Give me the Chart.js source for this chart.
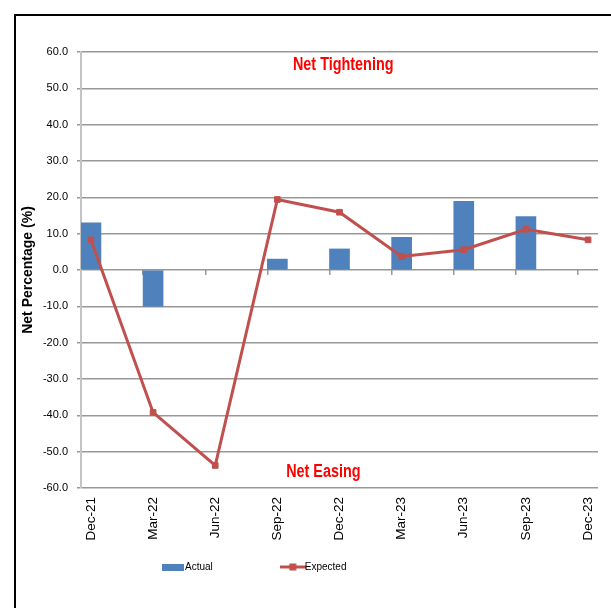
<!DOCTYPE html>
<html>
<head>
<meta charset="utf-8">
<script src="https://cdn.jsdelivr.net/npm/chart.js@4.4.0/dist/chart.umd.min.js"></script>
<style>
  html, body { margin: 0; padding: 0; background: #fff; width: 611px; height: 608px; overflow: hidden; }
  #frame { position: absolute; left: 14px; top: 14px; width: 640px; height: 640px; border: 2px solid #000; }
  #chart { position: absolute; left: 0; top: 0; }
</style>
</head>
<body>
<div id="frame"><canvas id="chart" width="595" height="592"></canvas></div>
<script>
// Quarterly survey: net percentage of respondents, actual vs expected
const quarters = ['Dec-21', 'Mar-22', 'Jun-22', 'Sep-22', 'Dec-22', 'Mar-23', 'Jun-23', 'Sep-23', 'Dec-23'];
const actual   = [13.0, -10.0, null, 3.0, 5.8, 9.0, 18.9, 14.7, null];
const expected = [8.3, -39.2, -53.8, 19.4, 15.9, 3.7, 5.6, 11.2, 8.3];
const yRange   = { min: -60, max: 60, step: 10 };
const notes = [
  { text: 'Net Tightening', x: 4.06, y: 55.1 },
  { text: 'Net Easing',     x: 3.74, y: -57.1 }
];

const BLUE = '#4F81BD';
const RED = '#C0504D';
const GRID = '#989898';
const SANS = '"Liberation Sans", Arial, sans-serif';

// Bars sit just right of each quarter's tick mark
const barShift = 0.16;

function glyph(w, h, paint) {
  const c = document.createElement('canvas');
  c.width = w; c.height = h;
  paint(c.getContext('2d'), w, h);
  return c;
}
const legendGlyphs = [
  glyph(22, 7, (g, w, h) => { g.fillStyle = BLUE; g.fillRect(0, 0, w, h); }),
  glyph(26, 9, (g, w, h) => {
    g.strokeStyle = RED; g.lineWidth = 3;
    g.beginPath(); g.moveTo(0, h / 2); g.lineTo(w, h / 2); g.stroke();
    g.fillStyle = RED; g.fillRect(w / 2 - 3.5, h / 2 - 3.5, 7, 7);
  })
];

// Red condensed captions placed in data space
const captionPlugin = {
  id: 'captions',
  afterDatasetsDraw(chart) {
    const { ctx, scales: { x, y } } = chart;
    notes.forEach(n => {
      ctx.save();
      ctx.translate(x.getPixelForValue(n.x), y.getPixelForValue(n.y));
      ctx.scale(0.8, 1);
      ctx.font = 'bold 18px ' + SANS;
      ctx.fillStyle = '#FF0000';
      ctx.textAlign = 'center';
      ctx.textBaseline = 'alphabetic';
      ctx.fillText(n.text, 0, 0);
      ctx.restore();
    });
  }
};

// Legend row sits under the quarter labels, left of centre
const legendPlacement = {
  id: 'legendPlacement',
  afterLayout(chart) {
    const lg = chart.legend;
    const area = chart.chartArea;
    const pad = lg.options.labels.padding;
    const w = lg.right - lg.left;
    lg.left = area.left + 85 - pad;
    lg.right = lg.left + w;
    lg.top = area.bottom + 79 - pad - 5;
    lg.bottom = lg.top + pad + 10 + 10;
  }
};

const xRange = { min: -barShift, max: quarters.length - 1 + barShift };

new Chart(document.getElementById('chart'), {
  data: {
    datasets: [
      {
        type: 'bar',
        label: 'Actual',
        data: actual.map((v, i) => ({ x: i, y: v })),
        backgroundColor: BLUE,
        borderWidth: 0,
        barThickness: 20,
        order: 1
      },
      {
        type: 'line',
        label: 'Expected',
        data: expected.map((v, i) => ({ x: i, y: v })),
        borderColor: RED,
        backgroundColor: RED,
        borderWidth: 3,
        pointStyle: 'rect',
        pointRadius: 4,
        pointBorderWidth: 1,
        tension: 0,
        order: 0
      }
    ]
  },
  options: {
    responsive: false,
    animation: false,
    layout: { padding: { top: 36, right: 13, bottom: 20, left: 0 } },
    scales: {
      x: {
        type: 'linear',
        position: 'bottom',
        offset: false,
        min: xRange.min,
        max: xRange.max,
        afterBuildTicks: s => { s.ticks = quarters.map((_, i) => ({ value: i })); },
        afterFit: s => { s.height = 60; s.paddingLeft = 0; s.paddingRight = 0; },
        grid: { display: false, drawTicks: false },
        border: { display: false },
        ticks: {
          autoSkip: false,
          minRotation: 90,
          maxRotation: 90,
          padding: 9,
          color: '#000',
          font: { family: SANS, size: 13.5 },
          callback: v => quarters[Math.round(v)]
        }
      },
      x2: {
        type: 'linear',
        position: { y: 0 },
        offset: false,
        min: xRange.min,
        max: xRange.max,
        afterBuildTicks: s => { s.ticks = quarters.map((_, i) => ({ value: i - barShift })); },
        grid: { drawOnChartArea: false, drawTicks: true, tickLength: 5, color: GRID, lineWidth: 1.5 },
        border: { display: false },
        ticks: { display: false }
      },
      y: {
        min: yRange.min,
        max: yRange.max,
        afterFit: s => { s.width = 65; },
        grid: { color: GRID, lineWidth: 1.5, tickLength: 4 },
        border: { display: true, color: '#c4c4c4', width: 2 },
        ticks: {
          stepSize: yRange.step,
          padding: 9,
          color: '#000',
          font: { family: SANS, size: 11 },
          callback: v => v.toFixed(1)
        },
        title: {
          display: true,
          text: 'Net Percentage (%)',
          color: '#000',
          font: { family: SANS, size: 14, weight: 'bold' },
          padding: { top: 4, bottom: 0 }
        }
      }
    },
    plugins: {
      tooltip: { enabled: false },
      legend: {
        position: 'bottom',
        align: 'start',
        fullSize: false,
        maxHeight: 40,
        labels: {
          usePointStyle: true,
          pointStyleWidth: 14,
          boxHeight: 7,
          padding: 73,
          color: '#000',
          font: { family: SANS, size: 10 },
          sort: (a, b) => a.datasetIndex - b.datasetIndex,
          generateLabels: chart => Chart.defaults.plugins.legend.labels.generateLabels(chart)
            .map(item => Object.assign(item, { pointStyle: legendGlyphs[item.datasetIndex] }))
        }
      }
    }
  },
  plugins: [captionPlugin, legendPlacement]
});
</script>
</body>
</html>
